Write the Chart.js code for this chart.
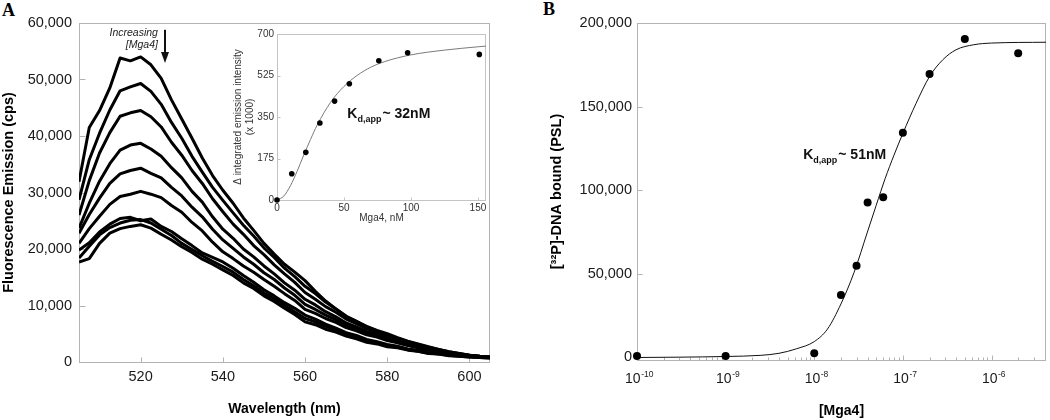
<!DOCTYPE html>
<html>
<head>
<meta charset="utf-8">
<script src="https://cdn.jsdelivr.net/npm/chart.js@4/dist/chart.umd.min.js"></script>
<style>
  body { margin: 0; background: #fff; }
  #page { position: relative; width: 1050px; height: 420px; overflow: hidden; background: #fff; }
  .box { position: absolute; }
  .letter { position: absolute; font-family: "Liberation Serif", "Times New Roman", serif; font-weight: bold; font-size: 18px; line-height: 18px; color: #000; }
</style>
</head>
<body>
<div id="page">
  <div class="letter" style="left:2px;top:1px">A</div>
  <div class="letter" style="left:543px;top:0px">B</div>
  <div class="box" style="left:0;top:0"><canvas id="chartA" width="500" height="420"></canvas></div>
  <div class="box" style="left:225px;top:25px"><canvas id="inset" width="265" height="200"></canvas></div>
  <div class="box" style="left:540px;top:0"><canvas id="chartB" width="510" height="420"></canvas></div>
</div>
<script>
// panel A: emission spectra, one array per [Mga4] step (cps)
const wavelength = [505, 507.5, 510, 512.5, 515, 517.5, 520, 522.5, 525, 527.5, 530, 532.5, 535, 537.5, 540, 542.5, 545, 547.5, 550, 552.5, 555, 557.5, 560, 562.5, 565, 567.5, 570, 572.5, 575, 577.5, 580, 582.5, 585, 587.5, 590, 592.5, 595, 597.5, 600, 602.5, 605];
const spec1 = [31900, 41500, 44500, 48500, 53800, 53300, 54000, 52600, 50200, 46400, 43000, 39600, 36100, 33000, 30400, 28100, 25500, 23300, 21000, 19100, 17300, 15900, 14400, 12500, 10800, 9400, 8100, 7200, 6300, 5600, 5000, 4300, 3700, 3200, 2700, 2200, 1800, 1500, 1200, 1000, 900];
const spec2 = [28700, 35800, 40500, 44600, 48000, 48700, 49300, 47900, 45600, 42400, 39600, 36400, 33600, 30900, 28600, 26400, 24200, 22300, 20200, 18500, 16600, 15100, 13400, 12100, 10600, 9400, 8100, 7200, 6200, 5500, 4800, 4200, 3600, 3100, 2600, 2200, 1800, 1500, 1200, 1000, 900];
const spec3 = [26000, 32100, 37000, 40600, 43500, 44100, 44500, 43400, 41600, 38900, 36600, 33900, 31600, 28900, 26600, 24400, 22600, 20600, 19000, 17200, 15600, 14100, 12300, 11100, 9800, 8800, 7600, 6800, 5900, 5300, 4500, 4000, 3400, 2900, 2500, 2100, 1700, 1400, 1200, 1000, 900];
const spec4 = [23700, 28100, 32000, 35100, 37500, 38400, 38700, 37700, 36400, 34400, 32600, 30200, 28300, 25700, 23500, 21900, 20000, 18600, 17000, 15600, 14000, 12700, 11100, 10100, 8900, 8000, 6900, 6200, 5400, 4900, 4200, 3700, 3100, 2700, 2300, 1900, 1600, 1300, 1100, 900, 800];
const spec5 = [22800, 26100, 29000, 31600, 33300, 33900, 34300, 33400, 32600, 30900, 29400, 27400, 25700, 23500, 21600, 20100, 18600, 17300, 15800, 14600, 13100, 11800, 10200, 9300, 8300, 7500, 6500, 5900, 5100, 4600, 4000, 3500, 3000, 2600, 2200, 1900, 1600, 1300, 1100, 900, 800];
const spec6 = [21000, 23600, 25800, 27900, 29300, 29700, 30200, 29700, 29100, 27700, 26500, 24700, 23200, 21200, 19500, 18300, 17000, 15900, 14600, 13400, 12100, 10900, 9300, 8600, 7700, 7000, 6100, 5500, 4800, 4400, 3800, 3400, 2900, 2500, 2100, 1800, 1500, 1300, 1100, 900, 800];
const spec7 = [19800, 21100, 23000, 24400, 25400, 25600, 25000, 25300, 24000, 23100, 21800, 20600, 19300, 18500, 17700, 16600, 15300, 14100, 12800, 11700, 10500, 9500, 8300, 7600, 6700, 6000, 5200, 4700, 4000, 3600, 3100, 2800, 2300, 2100, 1700, 1500, 1300, 1100, 1000, 900, 800];
const spec8 = [18400, 20500, 22500, 23800, 24600, 25100, 25200, 24600, 23500, 22400, 21000, 19900, 18800, 17800, 16900, 15900, 14600, 13500, 12200, 11200, 10000, 8900, 7700, 7100, 6300, 5700, 4900, 4400, 3800, 3400, 2900, 2600, 2200, 1900, 1600, 1400, 1200, 1000, 900, 800, 700];
const spec9 = [17700, 18300, 21000, 22800, 23600, 24000, 24300, 23700, 22600, 21600, 20400, 19400, 18200, 17300, 16300, 15300, 14000, 13000, 11700, 10700, 9500, 8400, 7100, 6600, 5800, 5300, 4600, 4100, 3500, 3200, 2700, 2500, 2100, 1900, 1500, 1400, 1100, 1000, 900, 800, 700];
const spectra = [spec1, spec2, spec3, spec4, spec5, spec6, spec7, spec8, spec9];
const xTicksA = [520, 540, 560, 580, 600];
const yTicksA = [0, 10000, 20000, 30000, 40000, 50000, 60000];

// inset: integrated emission change vs Mga4 (nM)
const insetConc = [0, 11, 21.5, 32, 43, 54, 76, 97.5, 151];
const insetSignal = [0, 111, 201, 325, 417, 490, 587, 621, 614];
const insetFitConc = [0, 5, 10, 15, 20, 25, 30, 40, 50, 60, 70, 80, 100, 125, 150, 156];
const insetFitSignal = [0, 16, 60, 121, 190, 255, 316, 412, 479, 526, 560, 583, 612, 632, 646, 649];
const insetXTicks = [0, 50, 100, 150];
const insetYTicks = [0, 175, 350, 525, 700];

// panel B: bound DNA vs [Mga4] (M)
const bConc = [1e-10, 1e-9, 1e-8, 2e-8, 3e-8, 4e-8, 6e-8, 1e-7, 2e-7, 5e-7, 2e-6];
const bBound = [900, 900, 2500, 37400, 54900, 92600, 95800, 134400, 169500, 190400, 181900];
const bFitConc = [1e-10, 3e-10, 1e-9, 2.5e-9, 4e-9, 6.3e-9, 1e-8, 1.41e-8, 2e-8, 2.82e-8, 3.98e-8, 5e-8, 6.31e-8, 7.94e-8, 1e-7, 1.41e-7, 2e-7, 2.82e-7, 3.98e-7, 6.31e-7, 1e-6, 4.12e-6];
const bFitBound = [0, 200, 600, 1300, 2500, 5200, 9500, 17000, 32000, 51000, 75000, 91000, 107000, 121000, 134000, 152000, 168000, 178000, 184000, 187000, 188000, 188500];
const bDecades = [1e-10, 1e-9, 1e-8, 1e-7, 1e-6];
const bYTicks = [0, 50000, 100000, 150000, 200000];

const FONT = 'Arial, "Liberation Sans", sans-serif';
Chart.defaults.font.family = FONT;
Chart.defaults.color = '#1a1a1a';

// grey box round the plot area plus short ticks pointing inwards
const frame = {
  id: 'frame',
  beforeDatasetsDraw(chart, args, o) {
    const { ctx, chartArea: a } = chart;
    const L = Math.floor(a.left) + 0.5, T = Math.floor(a.top) + 0.5;
    const R = Math.floor(a.right) - 0.5, B = Math.floor(a.bottom) + 0.5;
    ctx.save();
    ctx.strokeStyle = o.color;
    ctx.lineWidth = 1;
    ctx.strokeRect(L, T, R - L, B - T);
    ctx.beginPath();
    chart.scales.x.ticks.forEach(t => {
      const p = Math.round(chart.scales.x.getPixelForValue(t.value)) + 0.5;
      ctx.moveTo(p, B);
      ctx.lineTo(p, B - (t.minor ? o.minorLen : o.xLen));
    });
    chart.scales.y.ticks.forEach(t => {
      const p = Math.round(chart.scales.y.getPixelForValue(t.value)) + 0.5;
      ctx.moveTo(L, p);
      ctx.lineTo(L + o.yLen, p);
    });
    ctx.stroke();
    ctx.restore();
  }
};

// "K d,app ~ ..." label placed in data units
const kdLabel = {
  id: 'kdLabel',
  afterDatasetsDraw(chart, args, o) {
    const { ctx, scales: { x, y } } = chart;
    let px = x.getPixelForValue(o.x);
    const py = y.getPixelForValue(o.y);
    ctx.save();
    ctx.fillStyle = '#111';
    ctx.textBaseline = 'middle';
    ctx.textAlign = 'left';
    ctx.font = 'bold 14px ' + FONT;
    ctx.fillText('K', px, py);
    px += ctx.measureText('K').width;
    ctx.font = 'bold 9px ' + FONT;
    ctx.fillText('d,app', px, py + 5);
    px += ctx.measureText('d,app').width + 1;
    ctx.font = 'bold 14px ' + FONT;
    ctx.fillText('~ ' + o.text, px, py);
    ctx.restore();
  }
};

// "Increasing [Mga4]" note with the down arrow
const note = {
  id: 'note',
  afterDatasetsDraw(chart, args, o) {
    const { ctx, scales: { x, y } } = chart;
    const tx = x.getPixelForValue(o.textX);
    ctx.save();
    ctx.fillStyle = '#222';
    ctx.font = 'italic 10.5px ' + FONT;
    ctx.textAlign = 'right';
    ctx.textBaseline = 'middle';
    ctx.fillText('Increasing', tx, y.getPixelForValue(o.line1Y));
    ctx.fillText('[Mga4]', tx, y.getPixelForValue(o.line2Y));
    const ax = Math.round(x.getPixelForValue(o.arrowX));
    const y0 = y.getPixelForValue(o.arrowTop), y1 = y.getPixelForValue(o.arrowTip);
    ctx.fillStyle = '#111';
    ctx.fillRect(ax - 1, y0, 2, y1 - y0 - 8);
    ctx.beginPath();
    ctx.moveTo(ax - 4, y1 - 11);
    ctx.lineTo(ax + 4, y1 - 11);
    ctx.lineTo(ax, y1);
    ctx.closePath();
    ctx.fill();
    ctx.restore();
  }
};

// 10^n labels under the log axis of panel B
const decadeLabels = {
  id: 'decadeLabels',
  afterDraw(chart) {
    const { ctx, chartArea: a, scales: { x } } = chart;
    ctx.save();
    ctx.fillStyle = '#1a1a1a';
    ctx.textAlign = 'left';
    ctx.textBaseline = 'alphabetic';
    bDecades.forEach(d => {
      const p = x.getPixelForValue(d);
      const exp = String(Math.round(Math.log10(d)));
      ctx.font = '14px ' + FONT;
      const w1 = ctx.measureText('10').width;
      ctx.font = '8.5px ' + FONT;
      const w2 = ctx.measureText(exp).width;
      const start = p - (w1 + w2) / 2 + 2;
      ctx.font = '14px ' + FONT;
      ctx.fillText('10', start, a.bottom + 23);
      ctx.font = '8.5px ' + FONT;
      ctx.fillText(exp, start + w1 + 0.5, a.bottom + 17);
    });
    ctx.restore();
  }
};

const tickFont = { size: 14.5 };
const titleFont = { size: 14, weight: 'bold' };

new Chart(document.getElementById('chartA'), {
  type: 'line',
  data: {
    datasets: spectra.map(s => ({
      data: s.map((v, i) => ({ x: wavelength[i], y: v })),
      borderColor: '#000',
      borderWidth: 3,
      borderJoinStyle: 'round',
      pointRadius: 0,
      tension: 0,
      fill: false
    }))
  },
  options: {
    responsive: false,
    animation: false,
    events: [],
    layout: { padding: { top: 23, right: 10, left: 0, bottom: 0 } },
    plugins: {
      legend: { display: false },
      tooltip: { enabled: false },
      frame: { color: '#b3b3b3', xLen: 5, yLen: 6, minorLen: 3 },
      note: { textX: 524.2, line1Y: 58200, line2Y: 56100, arrowX: 526, arrowTop: 58800, arrowTip: 52900 }
    },
    scales: {
      x: {
        type: 'linear', min: 505, max: 605,
        afterBuildTicks: s => { s.ticks = xTicksA.map(v => ({ value: v })); },
        afterFit: s => { s.height = 58; },
        grid: { display: false, drawTicks: false },
        border: { display: false },
        ticks: { padding: 6, font: tickFont, maxRotation: 0 },
        title: { display: true, text: 'Wavelength (nm)', font: titleFont, color: '#000', padding: { top: 0, bottom: 2 } }
      },
      y: {
        min: 0, max: 60000,
        afterBuildTicks: s => { s.ticks = yTicksA.map(v => ({ value: v })); },
        afterFit: s => { s.width = 79; },
        grid: { display: false, drawTicks: false },
        border: { display: false },
        ticks: { padding: 7, font: tickFont, callback: v => v.toLocaleString('en-US') },
        title: { display: true, text: 'Fluorescence Emission (cps)', font: { size: 14.5, weight: 'bold' }, color: '#000', padding: { top: 0, bottom: 0 } }
      }
    }
  },
  plugins: [frame, note]
});

new Chart(document.getElementById('inset'), {
  type: 'line',
  data: {
    datasets: [
      {
        data: insetFitConc.map((c, i) => ({ x: c, y: insetFitSignal[i] })),
        borderColor: '#7a7a7a', borderWidth: 1, pointRadius: 0,
        cubicInterpolationMode: 'monotone', clip: false, order: 2
      },
      {
        data: insetConc.map((c, i) => ({ x: c, y: insetSignal[i] })),
        showLine: false, pointRadius: 2.8, pointBackgroundColor: '#000', pointBorderWidth: 0,
        clip: false, order: 1
      }
    ]
  },
  options: {
    responsive: false,
    animation: false,
    events: [],
    layout: { padding: { top: 7, right: 2, left: 0, bottom: 0 } },
    plugins: {
      legend: { display: false },
      tooltip: { enabled: false },
      frame: { color: '#c4c4c4', xLen: 3, yLen: 3, minorLen: 2 },
      kdLabel: { x: 52.5, y: 362, text: '32nM' }
    },
    scales: {
      x: {
        type: 'linear', min: 0, max: 156,
        afterBuildTicks: s => { s.ticks = insetXTicks.map(v => ({ value: v })); },
        afterFit: s => { s.height = 25; },
        grid: { display: false, drawTicks: false },
        border: { display: false },
        ticks: { padding: 2, font: { size: 10 }, color: '#333', maxRotation: 0 },
        title: { display: true, text: 'Mga4, nM', font: { size: 10 }, color: '#333', padding: { top: 0, bottom: 1 } }
      },
      y: {
        min: 0, max: 700,
        afterBuildTicks: s => { s.ticks = insetYTicks.map(v => ({ value: v })); },
        afterFit: s => { s.width = 52; },
        grid: { display: false, drawTicks: false },
        border: { display: false },
        ticks: { padding: 3, font: { size: 10 }, color: '#333' },
        title: { display: true, text: ['\u0394 integrated emission intensity', '(x 1000)'], font: { size: 10 }, color: '#333', padding: { top: 7, bottom: 0 } }
      }
    }
  },
  plugins: [frame, kdLabel]
});

new Chart(document.getElementById('chartB'), {
  type: 'line',
  data: {
    datasets: [
      {
        data: bFitConc.map((c, i) => ({ x: c, y: bFitBound[i] })),
        borderColor: '#111', borderWidth: 1, pointRadius: 0,
        cubicInterpolationMode: 'monotone', clip: false, order: 2
      },
      {
        data: bConc.map((c, i) => ({ x: c, y: bBound[i] })),
        showLine: false, pointRadius: 4, pointBackgroundColor: '#000', pointBorderWidth: 0,
        clip: false, order: 1
      }
    ]
  },
  options: {
    responsive: false,
    animation: false,
    events: [],
    layout: { padding: { top: 23, right: 1, left: 0, bottom: 0 } },
    plugins: {
      legend: { display: false },
      tooltip: { enabled: false },
      frame: { color: '#b3b3b3', xLen: 5, yLen: 5, minorLen: 3 },
      kdLabel: { x: 7.5e-9, y: 121000, text: '51nM' }
    },
    scales: {
      x: {
        type: 'logarithmic', min: 1e-10, max: 4.12e-6,
        afterBuildTicks: s => {
          const ticks = [];
          bDecades.forEach(d => {
            ticks.push({ value: d });
            [2, 3, 4, 5, 6, 7, 8, 9].forEach(m => {
              if (m * d <= s.max) ticks.push({ value: m * d, minor: true });
            });
          });
          s.ticks = ticks;
        },
        afterFit: s => { s.height = 60; },
        grid: { display: false, drawTicks: false },
        border: { display: false },
        ticks: { display: false },
        title: { display: true, text: '[Mga4]', font: titleFont, color: '#000', padding: { top: 0, bottom: 0 } }
      },
      y: {
        min: -1500, max: 200000,
        afterBuildTicks: s => { s.ticks = bYTicks.map(v => ({ value: v })); },
        afterFit: s => { s.width = 97; },
        grid: { display: false, drawTicks: false },
        border: { display: false },
        ticks: { padding: 5, font: tickFont, callback: v => v.toLocaleString('en-US') },
        title: { display: true, text: '[\u00b3\u00b2P]-DNA bound (PSL)', font: { size: 14.5, weight: 'bold' }, color: '#000', padding: { top: 8, bottom: 0 } }
      }
    }
  },
  plugins: [frame, kdLabel, decadeLabels]
});
</script>
</body>
</html>
